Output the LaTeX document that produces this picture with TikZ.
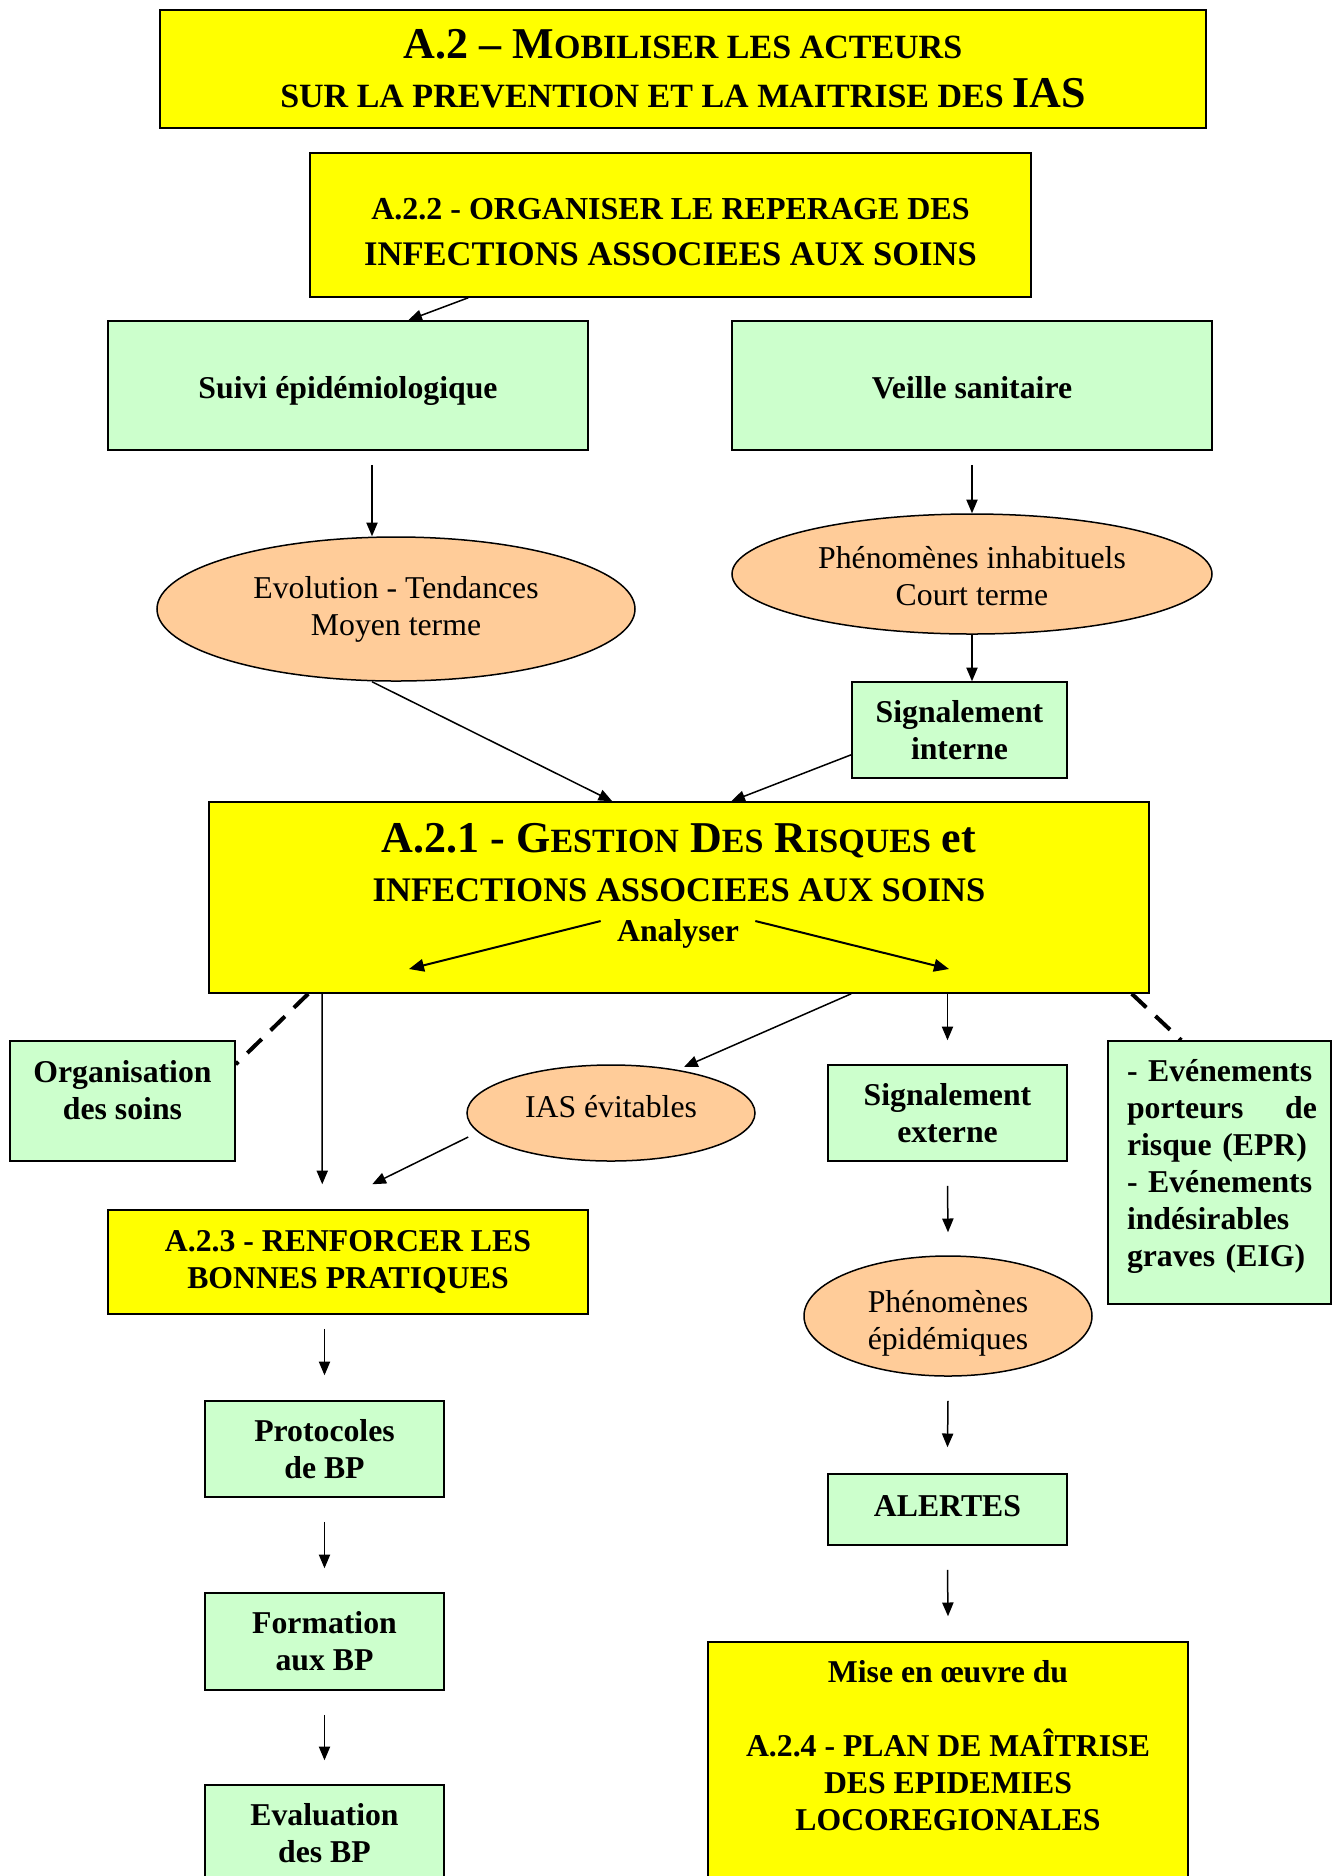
\documentclass[tikz,border=0pt]{standalone}
\usepackage{fontspec}
\setmainfont{Liberation Serif}
\usetikzlibrary{arrows.meta,calc,shapes.geometric}
\definecolor{jaune}{HTML}{FFFF00}
\definecolor{vert}{HTML}{CCFFCC}
\definecolor{peche}{HTML}{FFCC99}
\newcommand{\fsn}{\fontsize{12.7}{14.8}\selectfont}
\newcommand{\fbig}{\fontsize{13.8}{18.7}\selectfont\bfseries}
\newcommand{\fhuge}{\fontsize{17.6}{19.6}\selectfont\bfseries}
\newcommand{\petit}[1]{{\fontsize{13.6}{16}\selectfont #1}}
\begin{document}
\begin{tikzpicture}[x=0.4pt,y=-0.4pt,
  ybox/.style={draw=black,line width=0.6pt,fill=jaune,rectangle,inner sep=0pt},
  gbox/.style={draw=black,line width=0.6pt,fill=vert,rectangle,inner sep=0pt},
  obox/.style={draw=black,line width=0.6pt,fill=peche,ellipse,inner sep=0pt},
  btext/.style={font=\fsn\bfseries,align=center,inner sep=0pt},
  rtext/.style={font=\fsn,align=center,inner sep=0pt},
  arr/.style={line width=0.6pt,-{Triangle[length=5.5pt,width=4.5pt]}},
  arrA/.style={line width=0.8pt,-{Triangle[length=6pt,width=5pt]}},
  dline/.style={line width=1.6pt,dash pattern=on 8pt off 5pt}]
\useasboundingbox (0,0) rectangle (1339,1876);
\clip (0,0) rectangle (1339,1876);
\fill[white] (0,0) rectangle (1339,1876);

% boxes
\node[ybox,minimum width=418.4pt,minimum height=47.2pt,font=\fhuge,align=center] (title) at (683,69)
  {A.2 -- M\petit{OBILISER LES ACTEURS}\\\petit{SUR LA PREVENTION ET LA MAITRISE DES }IAS};
\node[ybox,minimum width=288.4pt,minimum height=57.6pt] (a22) at (670.5,225) {};
\node[font=\fbig,align=center,inner sep=0pt] (a22t) at (670.5,232)
  {{\fontsize{12.8}{18.7}\selectfont A.2.2 - ORGANISER LE REPERAGE DES}\\INFECTIONS ASSOCIEES AUX SOINS};
\node[gbox,minimum width=192pt,minimum height=51.6pt] (suivi) at (348,385.5) {};
\node[btext] (suivit) at (348,390.5) {Suivi épidémiologique};
\node[gbox,minimum width=192pt,minimum height=51.6pt] (veille) at (972,385.5) {};
\node[btext] (veillet) at (972,388) {Veille sanitaire};
\node[obox,minimum width=191.2pt,minimum height=57.6pt,rtext] (evol) at (396,609) {Evolution - Tendances\\Moyen terme};
\node[obox,minimum width=192pt,minimum height=48pt] (phinh) at (972,574) {};
\node[rtext] (phinht) at (972,576.5) {Phénomènes inhabituels\\Court terme};
\node[gbox,minimum width=86pt,minimum height=38.4pt,btext] (sigint) at (959.5,730) {Signalement\\interne};

\node[ybox,minimum width=376pt,minimum height=76.4pt] (a21) at (679,897.5) {};
\node[font=\fhuge,anchor=base,inner sep=0pt] (a21l1) at (679,852.5)
  {A.2.1 - G\petit{ESTION} D\petit{ES} R\petit{ISQUES} et};
\node[font=\fbig,anchor=base,inner sep=0pt] (a21l2) at (679,901.5) {INFECTIONS ASSOCIEES AUX SOINS};
\node[btext] (anal) at (678,934) {Analyser};
\coordinate (anl) at (409,969);
\coordinate (anr) at (949,969);

\node[gbox,minimum width=90pt,minimum height=48pt] (orga) at (122.5,1101) {};
\node[btext] (orgat) at (122.5,1090) {Organisation\\des soins};
\node[obox,minimum width=115.2pt,minimum height=38.4pt] (ias) at (611,1113) {};
\node[rtext] (iast) at (611,1107) {IAS évitables};
\node[gbox,minimum width=95.6pt,minimum height=38.4pt,btext] (sigext) at (947.5,1113) {Signalement\\externe};
\node[gbox,minimum width=89.2pt,minimum height=105.2pt] (epr) at (1219.5,1172.5) {};
\node[btext,text width=76pt,align=left] (eprt) at (1222,1166)
  {\hyphenpenalty=10000 \mbox{- Evénements}\\porteurs\hfill de\\risque (EPR)\\\mbox{- Evénements}\\indésirables\\graves (EIG)};

\node[ybox,minimum width=192pt,minimum height=41.6pt,btext] (a23) at (348,1262) {A.2.3 - RENFORCER LES\\BONNES PRATIQUES};
\node[obox,minimum width=115.2pt,minimum height=48pt] (pheep) at (948,1316) {};
\node[rtext] (pheept) at (948,1323) {Phénomènes\\épidémiques};
\node[gbox,minimum width=95.6pt,minimum height=28.4pt] (alertes) at (947.5,1509.5) {};
\node[btext] (alertest) at (947.5,1506) {ALERTES};
\node[ybox,minimum width=192pt,minimum height=103.2pt] (plan) at (948,1771) {};
\node[btext] (plant1) at (948,1672) {Mise en œuvre du};
\node[btext] (plant2) at (948,1780) {A.2.4 - PLAN DE MAÎTRISE\\DES EPIDEMIES\\LOCOREGIONALES};
\node[gbox,minimum width=95.6pt,minimum height=38.4pt,btext] (proto) at (324.5,1449) {Protocoles\\de BP};
\node[gbox,minimum width=95.6pt,minimum height=38.8pt,btext] (form) at (324.5,1641.5) {Formation\\aux BP};
\node[gbox,minimum width=95.6pt,minimum height=46pt] (eval) at (324.5,1842.5) {};
\node[btext] (evalt) at (324.5,1833) {Evaluation\\des BP};

% connectors
\draw[arr] ($(a22.south west)+(159,0)$) -- ($(suivi.north west)+(301,0)$);
\draw[arr] ($(suivi.south)+(24,14)$) -- ($(evol.north)+(-24,0)$);
\draw[arr] ($(veille.south)+(0,14)$) -- (phinh.north);
\draw[arr] (phinh.south) -- (phinh.south |- sigint.north);
\draw[arr] ($(evol.south)+(-24,0)$) -- ($(a21.north west)+(404,0)$);
\draw[arr] ($(sigint.south west)+(0,-24)$) -- ($(a21.north west)+(523,0)$);
\draw[arrA] ($(anal.west)+(-16,-13)$) -- (anl);
\draw[arrA] ($(anal.east)+(16,-13)$) -- (anr);
\draw[dline] ($(a21.south west)+(100,0)$) -- ($(orga.north east)+(0,24)$);
\draw[arr] ($(a21.south west)+(114,0)$) -- ($(a23.north west)+(215,-25)$);
\draw[arr] ($(a21.south west)+(643,0)$) -- ($(ias.center)+(73,-46)$);
\draw[arr] ($(ias.west)+(2,24)$) -- ($(a23.north west)+(265,-25)$);
\draw[arr] (a21.south -| sigext.north) -- ($(sigext.north)+(0,-24)$);
\draw[dline] ($(a21.south east)+(-18,0)$) -- ($(epr.north west)+(74,0)$);
\draw[arr] ($(sigext.south)+(0,24)$) -- ($(pheep.north)+(0,-23)$);
\draw[arr] ($(pheep.south)+(0,24)$) -- ($(alertes.north)+(0,-26)$);
\draw[arr] ($(alertes.south)+(0,24)$) -- ($(plan.north)+(0,-25)$);
\draw[arr] ($(a23.south -| proto.north)+(0,14)$) -- ($(proto.north)+(0,-25)$);
\draw[arr] ($(proto.south)+(0,24)$) -- ($(form.north)+(0,-24)$);
\draw[arr] ($(form.south)+(0,24)$) -- ($(eval.north)+(0,-24)$);
\end{tikzpicture}
\end{document}
